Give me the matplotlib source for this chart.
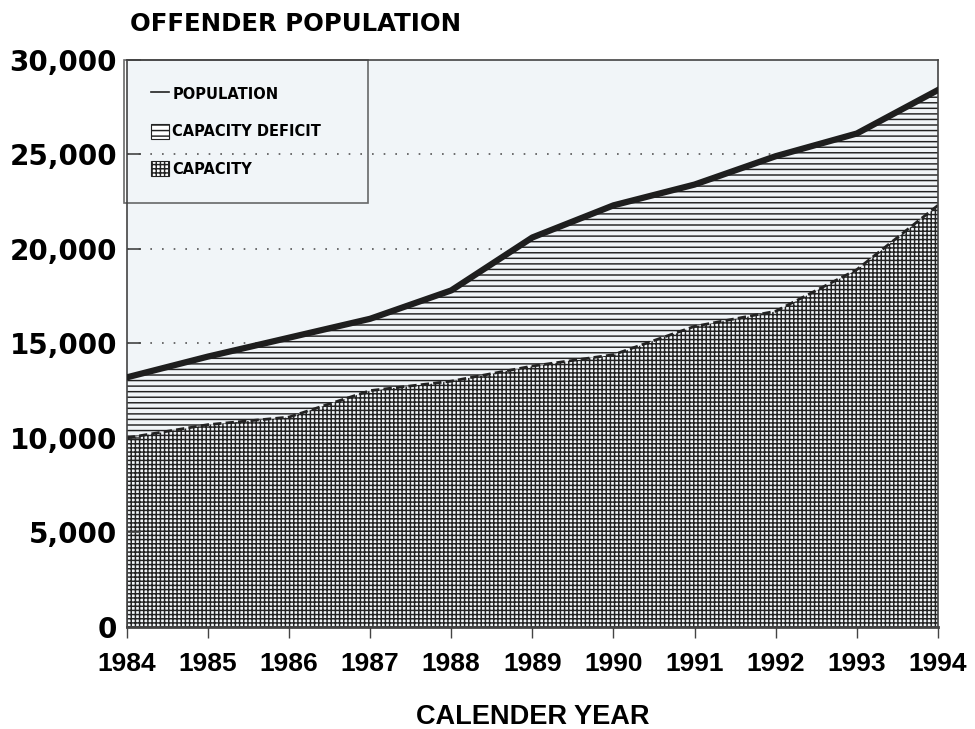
import matplotlib
matplotlib.use("Agg")
import matplotlib.pyplot as plt
from matplotlib.patches import Patch
from matplotlib.lines import Line2D

years = [1984, 1985, 1986, 1987, 1988, 1989, 1990, 1991, 1992, 1993, 1994]
population = [13200, 14300, 15300, 16300, 17800, 20600, 22300, 23400, 24900, 26100, 28400]
capacity = [10000, 10700, 11100, 12500, 13000, 13800, 14400, 15900, 16700, 18900, 22300]
yticks = [0, 5000, 10000, 15000, 20000, 25000, 30000]
ytick_labels = ["0", "5,000", "10,000", "15,000", "20,000", "25,000", "30,000"]

plt.rcParams['font.family'] = ['Liberation Sans', 'DejaVu Sans']
plt.rcParams['font.weight'] = 'bold'
plt.rcParams['hatch.linewidth'] = 1.05
plt.rcParams['hatch.color'] = '#222222'

bg = '#f1f5f8'
fig = plt.figure(figsize=(9.75, 7.29), dpi=100, facecolor='white')
ax = fig.add_axes([0.130, 0.140, 0.832, 0.778])
ax.set_facecolor(bg)

for v in [5000, 10000, 15000, 20000, 25000]:
    ax.axhline(v, color='#555555', lw=1.2, ls=(0, (1, 6)), zorder=0.5)

ax.fill_between(years, 0, capacity, facecolor=bg, edgecolor='#222222',
                hatch='++++', lw=0, zorder=1)
ax.fill_between(years, capacity, population, facecolor=bg, edgecolor='#222222',
                hatch='---', lw=0, zorder=1)
ax.plot(years, capacity, color='#222222', lw=2, ls=(0, (3, 1.5)), zorder=2)
ax.plot(years, population, color='#1e1e1e', lw=4.5, zorder=3)

ax.set_xlim(1984, 1994)
ax.set_ylim(0, 30000)
ax.set_xticks(years)
ax.set_xticklabels([str(y) for y in years], fontsize=19, fontweight='bold')
ax.set_yticks(yticks)
ax.set_yticklabels(ytick_labels, fontsize=20, fontweight='bold', family='DejaVu Sans')
ax.tick_params(axis='x', direction='out', length=8, width=1, pad=10, color='#444444')
ax.tick_params(axis='y', direction='in', length=10, width=1.2, pad=7, color='#444444')
for s in ax.spines.values():
    s.set_color('#444444')
    s.set_linewidth(1.2)
ax.spines['bottom'].set_linewidth(2)

ax.set_xlabel('CALENDER YEAR', fontsize=19.5, fontweight='bold', labelpad=20)
fig.text(0.133, 0.967, 'OFFENDER POPULATION', fontsize=17.6, fontweight='bold',
         family='DejaVu Sans', ha='left', va='center')

handles = [
    Line2D([0], [0], color='#222222', lw=1.2),
    Patch(facecolor='white', edgecolor='#222222', hatch='---', lw=0.8),
    Patch(facecolor='white', edgecolor='#222222', hatch='++++', lw=0.8),
]
labels = ['POPULATION', 'CAPACITY DEFICIT', 'CAPACITY']
leg = ax.legend(handles, labels, loc='upper left', bbox_to_anchor=(-0.003, 1.0, 0.3, 0.0),
                mode='expand', fancybox=False, edgecolor='#444444',
                prop={'weight': 'bold', 'size': 10.5, 'family': 'DejaVu Sans'},
                handlelength=1.25, handleheight=1.25, handletextpad=0.25,
                labelspacing=1.5, borderpad=1.8, borderaxespad=0)
leg.get_frame().set_facecolor('none')
leg.get_frame().set_linewidth(1.2)
leg.set_zorder(5)

fig.savefig('out.png', dpi=100, facecolor='white')
